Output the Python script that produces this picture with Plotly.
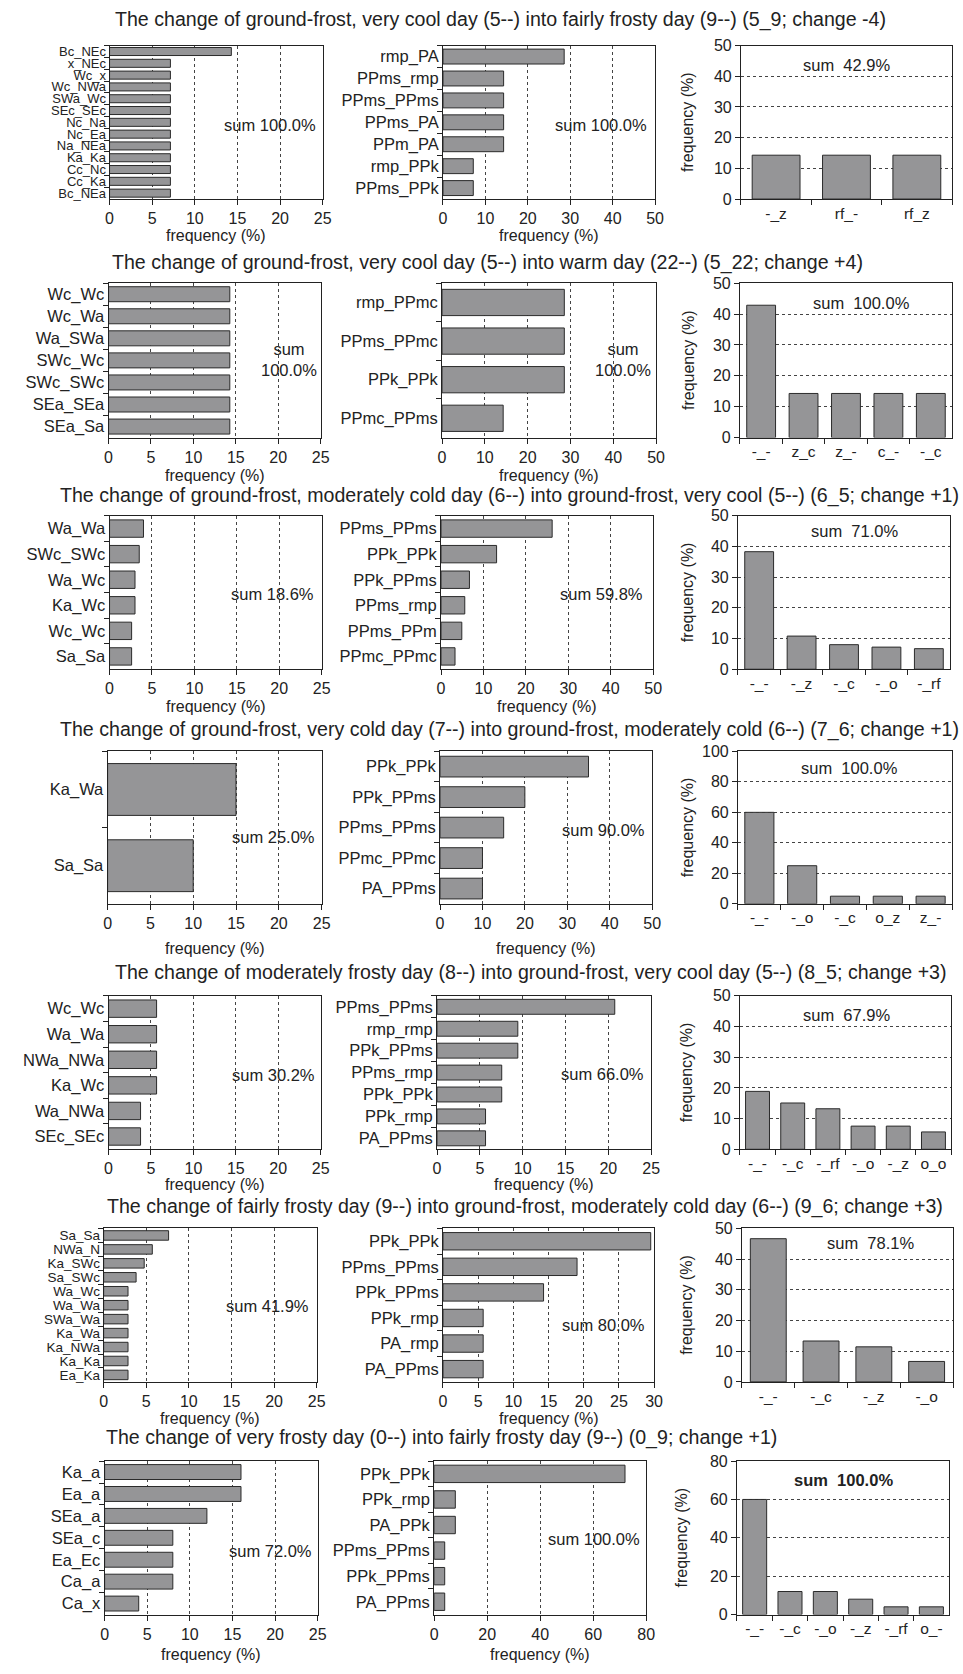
import plotly.graph_objects as go

W, H = 963, 1674

# ---------------- data ----------------
titles = [
    "The change of ground-frost, very cool day (5--) into fairly frosty day (9--) (5_9; change -4)",
    "The change of ground-frost, very cool day (5--) into warm day (22--) (5_22; change +4)",
    "The change of ground-frost, moderately cold day (6--) into ground-frost, very cool (5--) (6_5; change +1)",
    "The change of ground-frost, very cold day (7--) into ground-frost, moderately cold (6--) (7_6; change +1)",
    "The change of moderately frosty day (8--) into ground-frost, very cool day (5--) (8_5; change +3)",
    "The change of fairly frosty day (9--) into ground-frost, moderately cold day (6--) (9_6; change +3)",
    "The change of very frosty day (0--) into fairly frosty day (9--) (0_9; change +1)",
]

r1_left_cats = ["Bc_NEc", "x_NEc", "Wc_x", "Wc_NWa", "SWa_Wc", "SEc_SEc", "Nc_Na", "Nc_Ea", "Na_NEa", "Ka_Ka", "Cc_Nc", "Cc_Ka", "Bc_NEa"]
r1_left_vals = [14.29, 7.14, 7.14, 7.14, 7.14, 7.14, 7.14, 7.14, 7.14, 7.14, 7.14, 7.14, 7.14]
r1_mid_cats = ["rmp_PA", "PPms_rmp", "PPms_PPms", "PPms_PA", "PPm_PA", "rmp_PPk", "PPms_PPk"]
r1_mid_vals = [28.57, 14.29, 14.29, 14.29, 14.29, 7.14, 7.14]
r1_right_cats = ["-_z", "rf_-", "rf_z"]
r1_right_vals = [14.29, 14.29, 14.29]

r2_left_cats = ["Wc_Wc", "Wc_Wa", "Wa_SWa", "SWc_Wc", "SWc_SWc", "SEa_SEa", "SEa_Sa"]
r2_left_vals = [14.29, 14.29, 14.29, 14.29, 14.29, 14.29, 14.29]
r2_mid_cats = ["rmp_PPmc", "PPms_PPmc", "PPk_PPk", "PPmc_PPms"]
r2_mid_vals = [28.57, 28.57, 28.57, 14.29]
r2_right_cats = ["-_-", "z_c", "z_-", "c_-", "-_c"]
r2_right_vals = [42.86, 14.29, 14.29, 14.29, 14.29]

r3_left_cats = ["Wa_Wa", "SWc_SWc", "Wa_Wc", "Ka_Wc", "Wc_Wc", "Sa_Sa"]
r3_left_vals = [4.0, 3.5, 3.0, 3.0, 2.6, 2.6]
r3_mid_cats = ["PPms_PPms", "PPk_PPk", "PPk_PPms", "PPms_rmp", "PPms_PPm", "PPmc_PPmc"]
r3_mid_vals = [26.2, 13.1, 6.7, 5.6, 4.9, 3.3]
r3_right_cats = ["-_-", "-_z", "-_c", "-_o", "-_rf"]
r3_right_vals = [38.3, 10.8, 8.0, 7.2, 6.7]

r4_left_cats = ["Ka_Wa", "Sa_Sa"]
r4_left_vals = [15.0, 10.0]
r4_mid_cats = ["PPk_PPk", "PPk_PPms", "PPms_PPms", "PPmc_PPmc", "PA_PPms"]
r4_mid_vals = [35.0, 20.0, 15.0, 10.0, 10.0]
r4_right_cats = ["-_-", "-_o", "-_c", "o_z", "z_-"]
r4_right_vals = [60.0, 25.0, 5.0, 5.0, 5.0]

r5_left_cats = ["Wc_Wc", "Wa_Wa", "NWa_NWa", "Ka_Wc", "Wa_NWa", "SEc_SEc"]
r5_left_vals = [5.66, 5.66, 5.66, 5.66, 3.77, 3.77]
r5_mid_cats = ["PPms_PPms", "rmp_rmp", "PPk_PPms", "PPms_rmp", "PPk_PPk", "PPk_rmp", "PA_PPms"]
r5_mid_vals = [20.75, 9.43, 9.43, 7.55, 7.55, 5.66, 5.66]
r5_right_cats = ["-_-", "-_c", "-_rf", "-_o", "-_z", "o_o"]
r5_right_vals = [18.87, 15.09, 13.21, 7.55, 7.55, 5.66]

r6_left_cats = ["Sa_Sa", "NWa_N", "Ka_SWc", "Sa_SWc", "Wa_Wc", "Wa_Wa", "SWa_Wa", "Ka_Wa", "Ka_NWa", "Ka_Ka", "Ea_Ka"]
r6_left_vals = [7.62, 5.71, 4.76, 3.81, 2.86, 2.86, 2.86, 2.86, 2.86, 2.86, 2.86]
r6_mid_cats = ["PPk_PPk", "PPms_PPms", "PPk_PPms", "PPk_rmp", "PA_rmp", "PA_PPms"]
r6_mid_vals = [29.52, 19.05, 14.29, 5.71, 5.71, 5.71]
r6_right_cats = ["-_-", "-_c", "-_z", "-_o"]
r6_right_vals = [46.67, 13.33, 11.43, 6.67]

r7_left_cats = ["Ka_a", "Ea_a", "SEa_a", "SEa_c", "Ea_Ec", "Ca_a", "Ca_x"]
r7_left_vals = [16.0, 16.0, 12.0, 8.0, 8.0, 8.0, 4.0]
r7_mid_cats = ["PPk_PPk", "PPk_rmp", "PA_PPk", "PPms_PPms", "PPk_PPms", "PA_PPms"]
r7_mid_vals = [72.0, 8.0, 8.0, 4.0, 4.0, 4.0]
r7_right_cats = ["-_-", "-_c", "-_o", "-_z", "-_rf", "o_-"]
r7_right_vals = [60.0, 12.0, 12.0, 8.0, 4.0, 4.0]

sum_left = ["sum 100.0%", "sum<br>100.0%", "sum 18.6%", "sum 25.0%", "sum 30.2%", "sum 41.9%", "sum 72.0%"]
sum_mid = ["sum 100.0%", "sum<br>100.0%", "sum 59.8%", "sum 90.0%", "sum 66.0%", "sum 80.0%", "sum 100.0%"]
sum_right = ["sum\u00a0 42.9%", "sum\u00a0 100.0%", "sum\u00a0 71.0%", "sum\u00a0 100.0%",
             "sum\u00a0 67.9%", "sum\u00a0 78.1%", "<b>sum\u00a0 100.0%</b>"]

left_max = [25, 25, 25, 25, 25, 25, 25]
mid_max = [50, 50, 50, 50, 25, 30, 80]
mid_dtick = [10, 10, 10, 10, 5, 5, 20]
right_max = [50, 50, 50, 100, 50, 50, 80]
right_dtick = [10, 10, 10, 20, 10, 10, 20]

data_rows = [
    (r1_left_cats, r1_left_vals, r1_mid_cats, r1_mid_vals, r1_right_cats, r1_right_vals),
    (r2_left_cats, r2_left_vals, r2_mid_cats, r2_mid_vals, r2_right_cats, r2_right_vals),
    (r3_left_cats, r3_left_vals, r3_mid_cats, r3_mid_vals, r3_right_cats, r3_right_vals),
    (r4_left_cats, r4_left_vals, r4_mid_cats, r4_mid_vals, r4_right_cats, r4_right_vals),
    (r5_left_cats, r5_left_vals, r5_mid_cats, r5_mid_vals, r5_right_cats, r5_right_vals),
    (r6_left_cats, r6_left_vals, r6_mid_cats, r6_mid_vals, r6_right_cats, r6_right_vals),
    (r7_left_cats, r7_left_vals, r7_mid_cats, r7_mid_vals, r7_right_cats, r7_right_vals),
]

# ---------------- layout (pixel boxes) ----------------
boxes = [
    dict(left=(107, 323), mid=(445, 660), right=(747, 961), top=38, bot=193),
    dict(left=(106, 321), mid=(444, 661), right=(746, 961), top=278, bot=434),
    dict(left=(107, 322), mid=(443, 658), right=(744, 959), top=513, bot=668),
    dict(left=(105, 322), mid=(442, 657), right=(744, 961), top=751, bot=905),
    dict(left=(106, 321), mid=(439, 656), right=(746, 960), top=998, bot=1153),
    dict(left=(101, 317), mid=(445, 659), right=(748, 962), top=1233, bot=1388),
    dict(left=(102, 318), mid=(436, 651), right=(743, 958), top=1468, bot=1623),
]
title_y = [12, 257, 492, 729, 974, 1211, 1444]
title_x = [110, 107, 55, 55, 110, 102, 101]
xlab_y = [230, 472, 706, 950, 1189, 1425, 1663]
ylab_x = [693, 694, 693, 693, 692, 692, 687]
sum_pos = [
    [(270, 118), (605, 118), (854, 58)],
    [(289, 355), (627, 355), (869, 298)],
    [(272, 592), (606, 592), (862, 528)],
    [(273, 837), (608, 830), (857, 768)],
    [(273, 1078), (607, 1077), (854, 1017)],
    [(267, 1311), (608, 1331), (878, 1248)],
    [(270, 1559), (598, 1547), (851, 1487)],
]
left_label_size = [13, 16.5, 16.5, 16.5, 16.5, 13.5, 16.5]

FONT = "Liberation Sans, Arial, sans-serif"
TXT = "#222222"
FILL = "#959597"
EDGE = "#2b2b2b"
GRID = "#444444"
LINE = "#222222"


def px(x):
    return x / W


def py(y):
    return 1 - y / H


fig = go.Figure()
layout = {}
annotations = []
idx = 0


def axnames(i):
    s = "" if i == 1 else str(i)
    return "x" + s, "y" + s, "xaxis" + s, "yaxis" + s


def hbar(box_x, top, bot, cats, vals, xmax, dtick, catsize):
    global idx
    idx += 1
    xr, yr, xk, yk = axnames(idx)
    fig.add_trace(go.Bar(x=vals, y=cats, orientation="h", xaxis=xr, yaxis=yr,
                         marker=dict(color=FILL, line=dict(color=EDGE, width=1)),
                         showlegend=False, hoverinfo="skip"))
    layout[xk] = dict(domain=[px(box_x[0]), px(box_x[1])], anchor=yr, range=[0, xmax],
                      tick0=0, dtick=dtick, showgrid=True, gridcolor=GRID, griddash="dot",
                      gridwidth=1, showline=True, mirror=True, linecolor=LINE, linewidth=1,
                      ticks="outside", ticklen=5, tickcolor=LINE, zeroline=False,
                      tickfont=dict(family=FONT, size=16, color=TXT), fixedrange=True)
    n = len(cats)
    layout[yk] = dict(domain=[py(bot), py(top)], anchor=xr, type="category",
                      categoryorder="array", categoryarray=cats, range=[n - 0.5, -0.5],
                      tickmode="linear", tick0=0, dtick=1, tickson="boundaries",
                      ticks="outside", ticklen=5, tickcolor=LINE, showgrid=False,
                      showline=True, mirror=True, linecolor=LINE, linewidth=1,
                      tickfont=dict(family=FONT, size=catsize, color=TXT), fixedrange=True)


def vbar(box_x, top, bot, cats, vals, ymax, dtick):
    global idx
    idx += 1
    xr, yr, xk, yk = axnames(idx)
    fig.add_trace(go.Bar(x=cats, y=vals, xaxis=xr, yaxis=yr,
                         marker=dict(color=FILL, line=dict(color=EDGE, width=1)),
                         showlegend=False, hoverinfo="skip"))
    n = len(cats)
    layout[xk] = dict(domain=[px(box_x[0]), px(box_x[1])], anchor=yr, type="category",
                      categoryorder="array", categoryarray=cats, range=[-0.5, n - 0.5],
                      tickmode="linear", tick0=0, dtick=1, tickson="boundaries",
                      ticks="outside", ticklen=5, tickcolor=LINE, showgrid=False,
                      showline=True, mirror=True, linecolor=LINE, linewidth=1,
                      tickfont=dict(family=FONT, size=15.5, color=TXT), fixedrange=True)
    layout[yk] = dict(domain=[py(bot), py(top)], anchor=xr, range=[0, ymax], tick0=0,
                      dtick=dtick, showgrid=True, gridcolor=GRID, griddash="dot", gridwidth=1,
                      showline=True, mirror=True, linecolor=LINE, linewidth=1,
                      ticks="outside", ticklen=5, tickcolor=LINE, zeroline=False,
                      tickfont=dict(family=FONT, size=16, color=TXT), fixedrange=True)


def note(x, y, text, size, xanchor="center", angle=0):
    annotations.append(dict(x=px(x), y=py(y), xref="paper", yref="paper", text=text,
                            showarrow=False, xanchor=xanchor, yanchor="middle",
                            textangle=angle, font=dict(family=FONT, size=size, color=TXT)))


for r in range(7):
    b = boxes[r]
    lc, lv, mc, mv, rc, rv = data_rows[r]
    hbar(b["left"], b["top"], b["bot"], lc, lv, left_max[r], 5, left_label_size[r])
    hbar(b["mid"], b["top"], b["bot"], mc, mv, mid_max[r], mid_dtick[r], 16.5)
    vbar(b["right"], b["top"], b["bot"], rc, rv, right_max[r], right_dtick[r])

    note(title_x[r], title_y[r], titles[r], 19.6, xanchor="left")
    note((b["left"][0] + b["left"][1]) / 2, xlab_y[r], "frequency (%)", 16)
    note((b["mid"][0] + b["mid"][1]) / 2, xlab_y[r], "frequency (%)", 16)
    note(ylab_x[r], (b["top"] + b["bot"]) / 2, "frequency (%)", 16, angle=-90)
    for k, txt in enumerate([sum_left[r], sum_mid[r], sum_right[r]]):
        x, y = sum_pos[r][k]
        note(x, y, txt, 16.5)

fig.update_layout(
    width=W, height=H, margin=dict(l=0, r=0, t=0, b=0),
    paper_bgcolor="white", plot_bgcolor="white",
    bargap=0.32, showlegend=False, annotations=annotations,
    font=dict(family=FONT, size=16, color=TXT),
    **layout,
)

fig.write_html("out.html", config={"displayModeBar": False},
               post_script="document.body.style.margin='0';document.body.style.overflow='hidden';")
